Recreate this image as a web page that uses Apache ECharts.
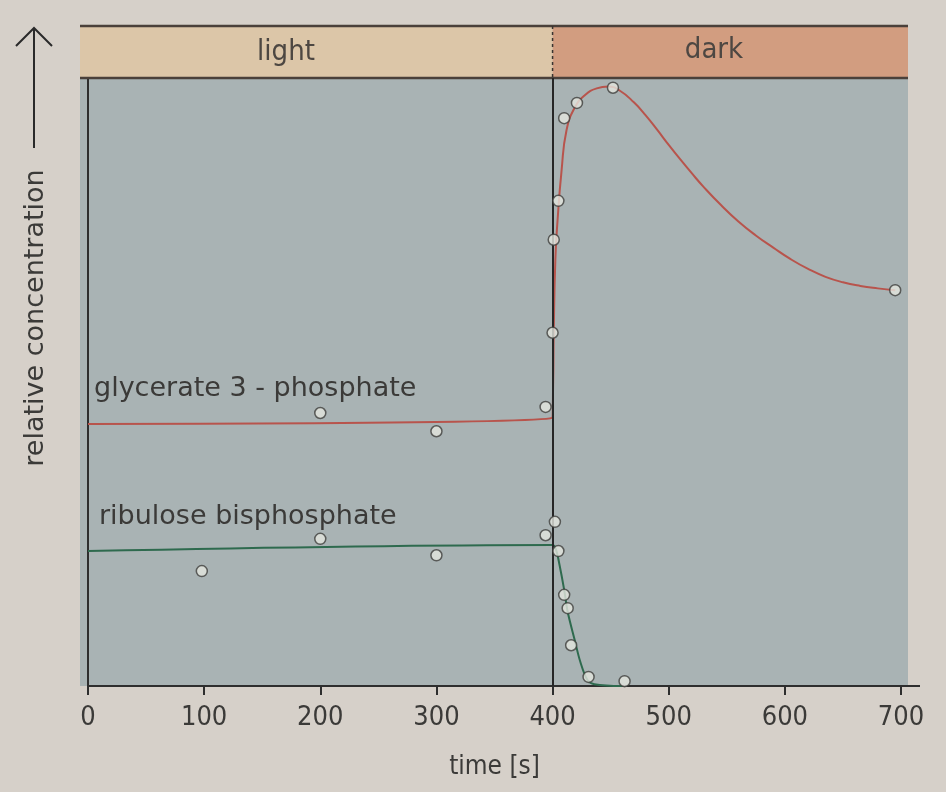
<!DOCTYPE html>
<html>
<head>
<meta charset="utf-8">
<script src="https://cdn.jsdelivr.net/npm/echarts@6/dist/echarts.min.js"></script>
<style>
  html, body { margin: 0; padding: 0; background: #d6d0c9; }
  #eCharts { width: 946px; height: 792px; }
</style>
</head>
<body>
<div id="eCharts"></div>
<script>
// time [s] ticks
var timeTicks = [0, 100, 200, 300, 400, 500, 600, 700];
var lightDarkSwitch = 400;

// glycerate 3-phosphate: measured points [time, relative concentration]
var pgaPoints = [
    [200, 44.9], [300, 41.9], [394, 45.9], [400, 58.1], [401, 73.4],
    [405, 79.8], [410, 93.4], [421, 95.9], [452, 98.4], [695, 65.1]
];
// glycerate 3-phosphate: drawn curve
var pgaCurve = [
    [0, 43.1], [399.5, 44.1], [400.5, 50.0], [401, 58.1], [402.4, 70.1],
    [404.3, 76.6], [407.8, 84.9], [412, 91.4], [419, 95.1], [428, 97.2],
    [438, 98.3], [448, 98.6], [458, 97.9], [470, 96.0], [480, 93.9],
    [490, 91.5], [500, 89.0], [510, 86.6], [520, 84.3], [530, 82.1],
    [545, 79.1], [560, 76.4], [575, 74.1], [590, 72.1], [605, 70.2],
    [620, 68.6], [635, 67.3], [650, 66.4], [665, 65.8], [680, 65.4], [695, 65.1]
];

// ribulose bisphosphate: measured points
var rubpPoints = [
    [98, 18.9], [200, 24.2], [300, 21.5], [394, 24.8], [402, 27.0],
    [405, 22.2], [410, 15.0], [413, 12.8], [416, 6.7], [431, 1.5], [462, 0.8]
];
// ribulose bisphosphate: drawn curve
var rubpCurve = [
    [0, 22.2], [400, 23.2], [403, 22.4], [406, 19.9], [410, 15.8],
    [413, 12.2], [419, 7.6], [424, 3.9], [430, 1.0], [436, 0.3], [460, 0]
];

var textColor = '#3b3a38';
var fontFam = '"DejaVu Sans Condensed", "DejaVu Sans", sans-serif';
var wideFam = '"DejaVu Sans", sans-serif';
var redColor = '#b8544c';
var greenColor = '#2e6a4e';

var myChart = echarts.init(document.getElementById('eCharts'));

var pointStyle = {
    color: '#e4e6df',
    borderColor: '#3e3e3c',
    borderWidth: 1.5
};

var option = {
    backgroundColor: '#d6d0c9',
    animation: false,
    grid: {
        left: 88,
        right: 45,
        top: 78,
        bottom: 106
    },
    xAxis: {
        type: 'value',
        min: 0,
        max: 700,
        interval: 100,
        name: 'time [s]',
        nameLocation: 'middle',
        nameGap: 68,
        nameTextStyle: { color: textColor, fontSize: 26, fontFamily: fontFam },
        axisLine: { show: true, lineStyle: { color: '#2e2e2e', width: 2 } },
        axisTick: { show: true, length: 9, lineStyle: { color: '#2e2e2e', width: 2 } },
        axisLabel: { color: textColor, fontSize: 27, fontFamily: fontFam, margin: 18 },
        splitLine: { show: false }
    },
    yAxis: {
        type: 'value',
        min: 0,
        max: 100,
        axisLine: { show: true, lineStyle: { color: '#2e2e2e', width: 2 } },
        axisTick: { show: false },
        axisLabel: { show: false },
        splitLine: { show: false }
    },
    series: [
        {
            name: 'glycerate 3 - phosphate',
            type: 'line',
            data: pgaCurve,
            smooth: 0.5,
            showSymbol: false,
            lineStyle: { color: redColor, width: 2 },
            z: 3,
            markLine: {
                silent: true,
                symbol: ['none', 'none'],
                label: { show: false },
                lineStyle: { color: '#262626', width: 2, type: 'solid' },
                data: [{ xAxis: lightDarkSwitch }]
            }
        },
        {
            name: 'glycerate 3 - phosphate points',
            type: 'scatter',
            data: pgaPoints,
            symbol: 'circle',
            symbolSize: 11,
            itemStyle: pointStyle,
            z: 5
        },
        {
            name: 'ribulose bisphosphate',
            type: 'line',
            data: rubpCurve,
            smooth: 0.35,
            showSymbol: false,
            lineStyle: { color: greenColor, width: 2 },
            z: 3
        },
        {
            name: 'ribulose bisphosphate points',
            type: 'scatter',
            data: rubpPoints,
            symbol: 'circle',
            symbolSize: 11,
            itemStyle: pointStyle,
            z: 5
        }
    ]
};
myChart.setOption(option);

// light / dark band, plot background and axis title, placed from the axes
var x0 = myChart.convertToPixel({ xAxisIndex: 0 }, 0);
var xSw = myChart.convertToPixel({ xAxisIndex: 0 }, lightDarkSwitch);
var xEnd = myChart.convertToPixel({ xAxisIndex: 0 }, 700);
var yTop = myChart.convertToPixel({ yAxisIndex: 0 }, 100);
var yBot = myChart.convertToPixel({ yAxisIndex: 0 }, 0);
var bandTop = 26;
var bgLeft = x0 - 8, bgRight = xEnd + 7;

myChart.setOption({
    graphic: [
        {
            type: 'rect', z: -10, silent: true,
            shape: { x: bgLeft, y: yTop, width: bgRight - bgLeft, height: yBot - yTop },
            style: { fill: '#a9b3b4' }
        },
        {
            type: 'rect', z: 1, silent: true,
            shape: { x: bgLeft, y: bandTop, width: xSw - bgLeft, height: yTop - bandTop },
            style: { fill: '#dcc6a8' }
        },
        {
            type: 'rect', z: 1, silent: true,
            shape: { x: xSw, y: bandTop, width: bgRight - xSw, height: yTop - bandTop },
            style: { fill: '#d29d80' }
        },
        {
            type: 'line', z: 2, silent: true,
            shape: { x1: bgLeft, y1: bandTop, x2: bgRight, y2: bandTop },
            style: { stroke: '#4a403a', lineWidth: 2.5 }
        },
        {
            type: 'line', z: 2, silent: true,
            shape: { x1: bgLeft, y1: yTop, x2: bgRight, y2: yTop },
            style: { stroke: '#4a403a', lineWidth: 2.5 }
        },
        {
            type: 'line', z: 2, silent: true,
            shape: { x1: xSw, y1: bandTop, x2: xSw, y2: yTop },
            style: { stroke: '#3a3430', lineWidth: 1.5, lineDash: [3, 3] }
        },
        {
            type: 'text', z: 3, silent: true,
            x: 286, y: (bandTop + yTop) / 2,
            style: {
                text: 'light', fill: '#4d4742', fontSize: 29, fontFamily: fontFam,
                align: 'center', verticalAlign: 'middle'
            }
        },
        {
            type: 'text', z: 3, silent: true,
            x: 714, y: (bandTop + yTop) / 2 - 2,
            style: {
                text: 'dark', fill: '#4d4742', fontSize: 29, fontFamily: fontFam,
                align: 'center', verticalAlign: 'middle'
            }
        },
        {
            // x axis line runs a bit past 700
            type: 'line', z: 2, silent: true,
            shape: { x1: xEnd, y1: yBot, x2: xEnd + 19, y2: yBot },
            style: { stroke: '#2e2e2e', lineWidth: 2 }
        },
        {
            type: 'text', z: 3, silent: true,
            x: 94, y: 402,
            style: {
                text: 'glycerate 3 - phosphate', fill: textColor, fontSize: 27,
                fontFamily: wideFam, align: 'left', verticalAlign: 'bottom'
            }
        },
        {
            type: 'text', z: 3, silent: true,
            x: 99, y: 530,
            style: {
                text: 'ribulose bisphosphate', fill: textColor, fontSize: 27,
                fontFamily: wideFam, align: 'left', verticalAlign: 'bottom'
            }
        },
        {
            // y axis title, reading bottom to top
            type: 'text', silent: true,
            x: 36, y: 318, rotation: Math.PI / 2,
            style: {
                text: 'relative concentration', fill: textColor, fontSize: 27,
                fontFamily: wideFam, align: 'center', verticalAlign: 'middle'
            }
        },
        {
            type: 'line', silent: true,
            shape: { x1: 34, y1: 148, x2: 34, y2: 28 },
            style: { stroke: '#2a2a2a', lineWidth: 2 }
        },
        {
            type: 'polyline', silent: true,
            shape: { points: [[16, 46], [34, 28], [52, 46]] },
            style: { stroke: '#2a2a2a', lineWidth: 2, fill: null }
        }
    ]
});
</script>
</body>
</html>
